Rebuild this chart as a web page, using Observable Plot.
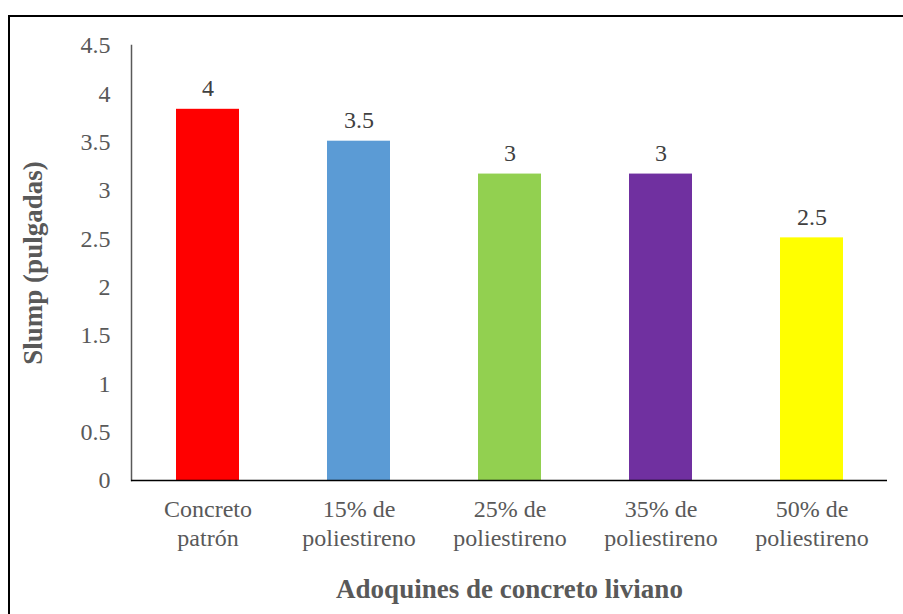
<!DOCTYPE html>
<html>
<head>
<meta charset="utf-8">
<script src="https://cdn.jsdelivr.net/npm/d3@7"></script>
<script src="https://cdn.jsdelivr.net/npm/@observablehq/plot@0.6"></script>
<style>
  html, body { margin: 0; padding: 0; background: #fff; overflow: hidden; }
  #wrap { position: relative; width: 903px; height: 614px; }
  #border { position: absolute; left: 8px; top: 15px; width: 1000px; height: 800px;
            border-left: 2px solid #000; border-top: 2px solid #000; box-sizing: border-box; }
  #chart { position: absolute; left: 0; top: 0; }
  #chart svg text { font-family: 'Liberation Serif', 'Times New Roman', serif; }
</style>
</head>
<body>
<div id="wrap"><div id="border"></div><div id="chart"></div></div>
<script>
const categories = ["Concreto\npatrón", "15% de\npoliestireno", "25% de\npoliestireno", "35% de\npoliestireno", "50% de\npoliestireno"];
const slump = [3.84, 3.51, 3.17, 3.17, 2.51];
const valueLabels = ["4", "3.5", "3", "3", "2.5"];
const barColors = ["#FF0000", "#5B9BD5", "#92D050", "#7030A0", "#FFFF00"];
const yTicks = [0, 0.5, 1, 1.5, 2, 2.5, 3, 3.5, 4, 4.5];
const yTickLabels = ["0", "0.5", "1", "1.5", "2", "2.5", "3", "3.5", "4", "4.5"];

const data = categories.map((c, i) => ({cat: c, value: slump[i], label: valueLabels[i], color: barColors[i]}));
const font = "Liberation Serif";

const chart = Plot.plot({
  width: 903,
  height: 614,
  marginLeft: 131,
  marginRight: 16,
  marginTop: 45,
  marginBottom: 134,
  style: {fontFamily: font, fontSize: "24px", color: "#595959", background: "transparent", overflow: "visible"},
  x: {domain: categories, paddingInner: 0.585, paddingOuter: 0.2925},
  y: {domain: [0, 4.5]},
  marks: [
    Plot.barY(data, {x: "cat", y: "value", fill: "color"}),
    Plot.frame({anchor: "left", stroke: "#595959", strokeWidth: 1.5}),
    Plot.ruleY([0], {stroke: "#000", strokeWidth: 1.5}),
    Plot.text(data, {x: "cat", y: "value", text: "label", dy: -13, lineAnchor: "bottom",
      fill: "#404040", fontSize: 24, fontFamily: font}),
    Plot.axisY({ticks: yTicks, tickFormat: (d) => yTickLabels[yTicks.indexOf(d)], tickSize: 0, tickPadding: 21,
      fontSize: 24, fontFamily: font, fill: "#595959",
      label: "Slump (pulgadas)", labelAnchor: "center", labelOffset: 109, labelArrow: "none"}),
    Plot.axisX({tickSize: 0, tickPadding: 17, fontSize: 24, fontFamily: font, lineHeight: 1.17, fill: "#595959",
      label: "Adoquines de concreto liviano", labelAnchor: "center", labelOffset: 117, labelArrow: "none"})
  ]
});

// style axis titles bold, remove any arrow glyphs
chart.querySelectorAll("g[aria-label='y-axis label'] text, g[aria-label='x-axis label'] text").forEach(t => {
  t.setAttribute("font-weight", "bold");
  t.setAttribute("font-size", "27");
  t.setAttribute("font-family", font);
  t.textContent = t.textContent.replace(/\s*[↑→↓←]\s*/g, "").trim();
});
document.getElementById("chart").appendChild(chart);
</script>
</body>
</html>
